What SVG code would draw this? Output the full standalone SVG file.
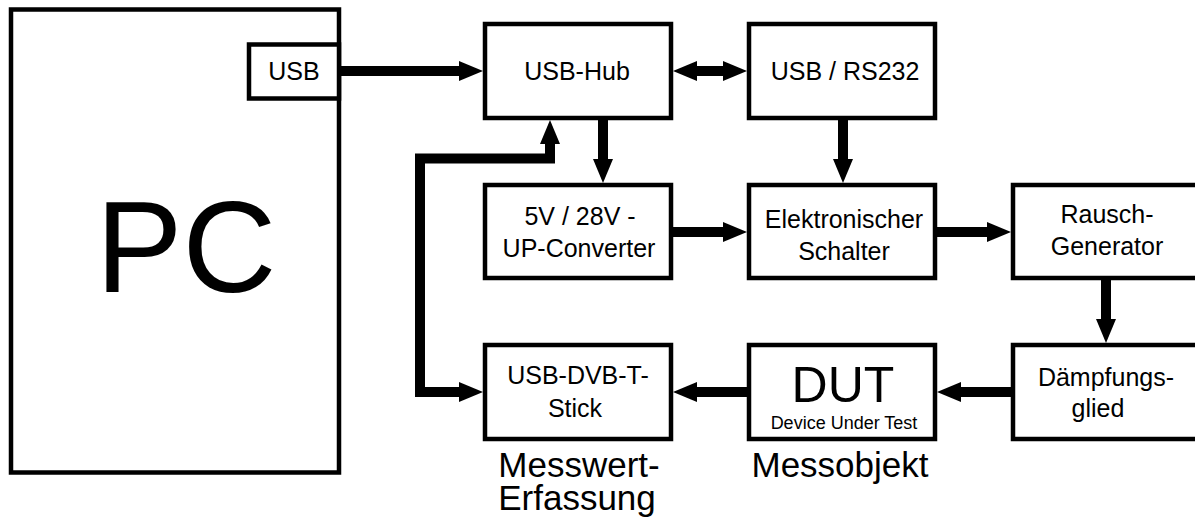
<svg xmlns="http://www.w3.org/2000/svg" width="1195" height="522" viewBox="0 0 1195 522">
<style>
.box{fill:#fff;stroke:#000;stroke-width:4.5}
.t{font-family:"Liberation Sans",Arial,sans-serif;font-size:25px;fill:#000;text-anchor:middle}
.big{font-family:"Liberation Sans",Arial,sans-serif;font-size:35px;fill:#000;text-anchor:middle}
.c{fill:none;stroke:#000;stroke-width:10;stroke-linejoin:miter}
</style>
<defs>
<marker id="ah" markerUnits="userSpaceOnUse" markerWidth="24" markerHeight="20" refX="4" refY="10" orient="auto-start-reverse">
<path d="M0,0 L24,10 L0,20 z" fill="#000"/>
</marker>
</defs>
<rect width="1195" height="522" fill="#fff"/>
<g id="pc">
<rect class="box" x="11" y="9.5" width="328" height="463"/>
<text x="186" y="292" font-family="Liberation Sans,Arial,sans-serif" font-size="130" text-anchor="middle">PC</text>
</g>
<g id="usb">
<rect class="box" x="249" y="44.5" width="90" height="54"/>
<text class="t" x="294" y="80">USB</text>
</g>
<g id="connectors">
<line class="c" x1="341" y1="71" x2="463" y2="71" marker-end="url(#ah)"/>
<line class="c" x1="693" y1="71" x2="727" y2="71" marker-start="url(#ah)" marker-end="url(#ah)"/>
<line class="c" x1="603" y1="120" x2="603" y2="163" marker-end="url(#ah)"/>
<line class="c" x1="843" y1="120" x2="843" y2="163" marker-end="url(#ah)"/>
<line class="c" x1="673" y1="232" x2="727" y2="232" marker-end="url(#ah)"/>
<line class="c" x1="937" y1="232" x2="991" y2="232" marker-end="url(#ah)"/>
<line class="c" x1="1106" y1="280" x2="1106" y2="323" marker-end="url(#ah)"/>
<line class="c" x1="1011" y1="392" x2="957" y2="392" marker-end="url(#ah)"/>
<line class="c" x1="747" y1="392" x2="693" y2="392" marker-end="url(#ah)"/>
<path class="c" d="M550,140 L550,158.5 L420,158.5 L420,392 L463,392" marker-start="url(#ah)" marker-end="url(#ah)"/>
</g>
<g id="hub">
<rect class="box" x="485" y="24" width="186" height="94"/>
<text class="t" x="577" y="80">USB-Hub</text>
</g>
<g id="rs232">
<rect class="box" x="749" y="24" width="186" height="94"/>
<text class="t" x="845" y="80">USB / RS232</text>
</g>
<g id="converter">
<rect class="box" x="485" y="185" width="186" height="93"/>
<text class="t"><tspan x="580" y="225">5V / 28V -</tspan><tspan x="579" y="257">UP-Converter</tspan></text>
</g>
<g id="schalter">
<rect class="box" x="749" y="185" width="186" height="93"/>
<text class="t"><tspan x="844" y="228">Elektronischer</tspan><tspan x="844" y="260">Schalter</tspan></text>
</g>
<g id="rausch">
<rect class="box" x="1013" y="185" width="186" height="93"/>
<text class="t"><tspan x="1107" y="223">Rausch-</tspan><tspan x="1107" y="255">Generator</tspan></text>
</g>
<g id="daempfung">
<rect class="box" x="1013" y="345" width="186" height="94"/>
<text class="t"><tspan x="1106" y="386">Dämpfungs-</tspan><tspan x="1098" y="417">glied</tspan></text>
</g>
<g id="dut">
<rect class="box" x="749" y="345" width="186" height="94"/>
<text x="843" y="402" font-family="Liberation Sans,Arial,sans-serif" font-size="50" text-anchor="middle">DUT</text>
<text x="844" y="429" font-family="Liberation Sans,Arial,sans-serif" font-size="18" text-anchor="middle">Device Under Test</text>
<text class="big" x="840" y="477">Messobjekt</text>
</g>
<g id="stick">
<rect class="box" x="485" y="345" width="186" height="94"/>
<text class="t"><tspan x="578" y="384">USB-DVB-T-</tspan><tspan x="575" y="417">Stick</tspan></text>
<text class="big"><tspan x="579" y="477">Messwert-</tspan><tspan x="577" y="510">Erfassung</tspan></text>
</g>
</svg>
